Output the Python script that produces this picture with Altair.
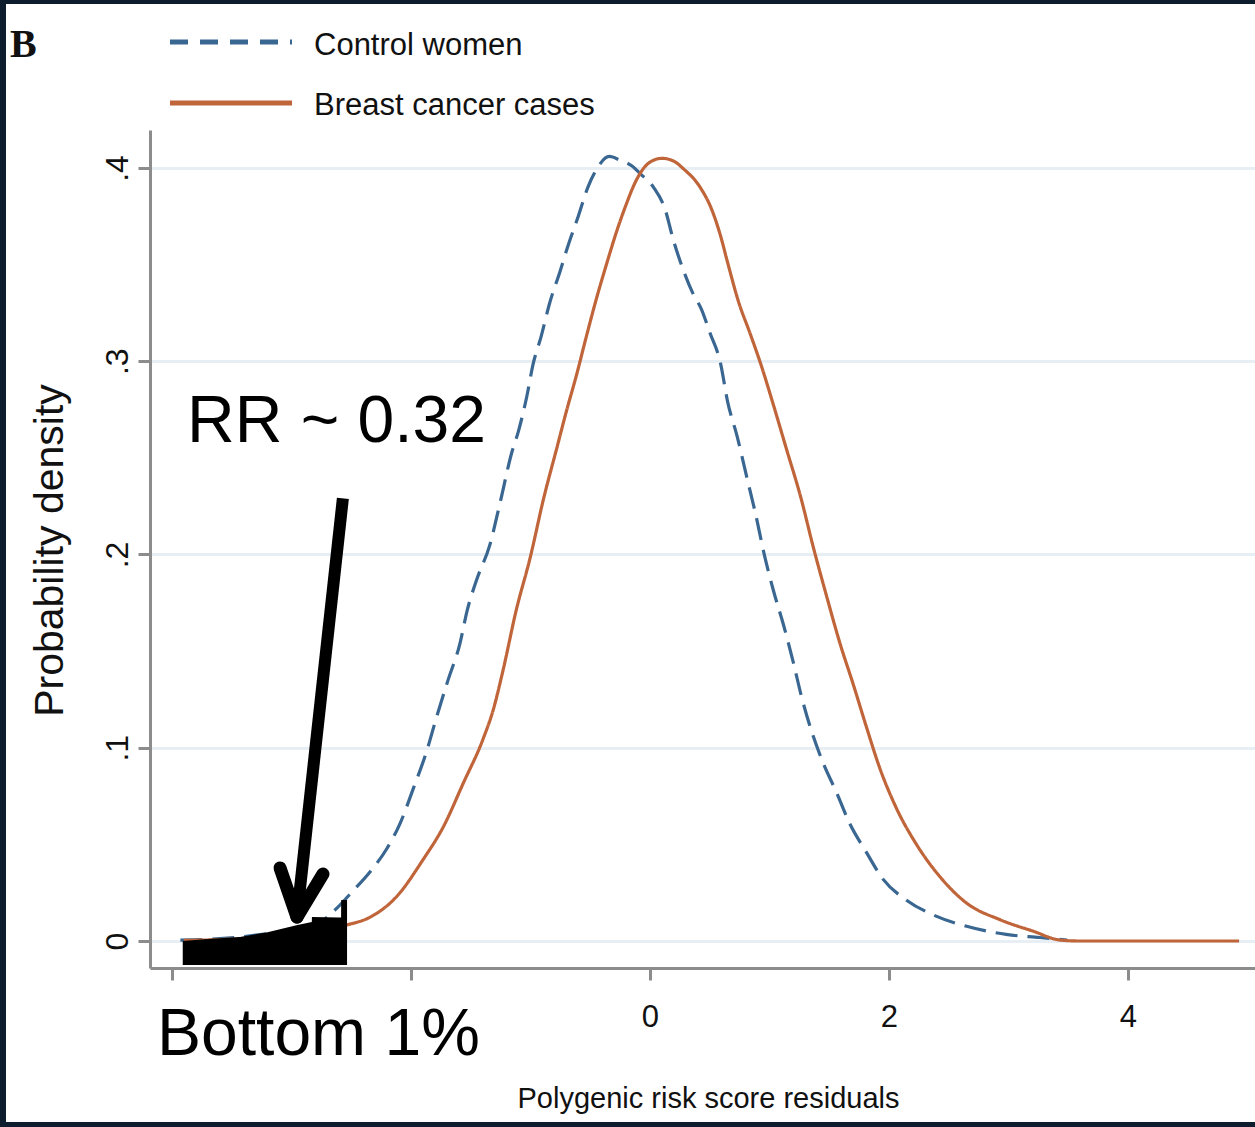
import altair as alt
import pandas as pd

# Kernel density of polygenic risk score residuals, by group
control_x = [-3.93, -3.6, -3.3, -3.0, -2.76, -2.62, -2.5, -2.34, -2.2, -2.09, -1.98, -1.87,
             -1.79, -1.69, -1.59, -1.53, -1.45, -1.34, -1.25, -1.16, -1.10, -1.03, -0.98,
             -0.91, -0.84, -0.75, -0.69, -0.60, -0.52, -0.45, -0.34, -0.25, -0.15, -0.08,
             0.03, 0.13, 0.19, 0.28, 0.36, 0.43, 0.50, 0.59, 0.65, 0.73, 0.81, 0.88, 0.96,
             1.03, 1.12, 1.20, 1.27, 1.35, 1.45, 1.56, 1.67, 1.81, 1.95, 2.15, 2.37, 2.65,
             2.98, 3.26, 3.49]
control_y = [0.0005, 0.0012, 0.003, 0.006, 0.0098, 0.017, 0.025, 0.036, 0.048, 0.061, 0.079,
             0.098, 0.115, 0.135, 0.154, 0.171, 0.187, 0.205, 0.228, 0.252, 0.264, 0.282,
             0.298, 0.313, 0.330, 0.347, 0.359, 0.375, 0.390, 0.399, 0.406, 0.404, 0.401,
             0.397, 0.390, 0.378, 0.364, 0.347, 0.335, 0.327, 0.315, 0.299, 0.279, 0.261,
             0.240, 0.222, 0.199, 0.182, 0.163, 0.144, 0.126, 0.109, 0.092, 0.077, 0.061,
             0.046, 0.032, 0.021, 0.0135, 0.0076, 0.0034, 0.0018, 0.0005]

cases_x = [-3.9, -3.5, -3.1, -2.8, -2.54, -2.34, -2.12, -1.90, -1.73, -1.56, -1.40, -1.31,
           -1.23, -1.12, -1.00, -0.89, -0.78, -0.70, -0.61, -0.54, -0.45, -0.36, -0.28,
           -0.20, -0.12, -0.03, 0.03, 0.10, 0.20, 0.28, 0.42, 0.52, 0.59, 0.65, 0.74, 0.84,
           0.93, 1.03, 1.14, 1.26, 1.37, 1.48, 1.59, 1.70, 1.81, 1.92, 2.06, 2.23, 2.43,
           2.65, 2.93, 3.21, 3.43, 3.6, 4.93]
cases_y = [0.0003, 0.001, 0.003, 0.0055, 0.0083, 0.0124, 0.023, 0.042, 0.059, 0.082, 0.104,
           0.120, 0.140, 0.171, 0.199, 0.229, 0.255, 0.274, 0.294, 0.311, 0.332, 0.351,
           0.367, 0.381, 0.393, 0.4015, 0.404, 0.405, 0.4035, 0.3996, 0.390, 0.378, 0.365,
           0.351, 0.331, 0.314, 0.298, 0.278, 0.255, 0.230, 0.203, 0.178, 0.154, 0.133,
           0.111, 0.090, 0.069, 0.050, 0.033, 0.0196, 0.011, 0.005, 0.0005, 0.0, 0.0]

series_names = ["Control women", "Breast cancer cases"]
series_colors = ["#3a6791", "#c0653a"]

# Shaded "bottom 1%" tail
tail_x = [-3.91, -3.70, -3.43, -3.20, -2.95, -2.83, -2.829, -2.60, -2.585, -2.584, -2.535]
tail_top = [0.0, 0.0010, 0.0021, 0.0045, 0.0083, 0.0098, 0.0124, 0.0122, 0.0122, 0.0212, 0.0212]
tail_base = -0.0124

# Arrow pointing at the tail: shaft and two head strokes
arrow_x = [-2.57, -3.096, -2.736]
arrow_y = [0.229, 0.0378, 0.0347]
arrow_x2 = [-2.945, -2.954, -2.954]
arrow_y2 = [0.018, 0.0124, 0.0124]

x_ticks = [-4, -2, 0, 2, 4]
y_ticks = [0, 0.1, 0.2, 0.3, 0.4]

NAVY = "#0e1d2e"
AXIS_GREY = "#8c8c8c"
SANS = "Liberation Sans, Arial, Helvetica, sans-serif"

curves = pd.concat([
    pd.DataFrame({"x": control_x, "y": control_y, "series": series_names[0]}),
    pd.DataFrame({"x": cases_x, "y": cases_y, "series": series_names[1]}),
])
tail = pd.DataFrame({"x": tail_x, "y": tail_top, "y2": [tail_base] * len(tail_x)})
arrow = pd.DataFrame({"x": arrow_x, "y": arrow_y, "x2": arrow_x2, "y2": arrow_y2})

x_scale = alt.Scale(domain=[-4.184, 5.063], nice=False, zero=False)
y_scale = alt.Scale(domain=[-0.01397, 0.41966], nice=False, zero=False)

x_axis = alt.Axis(
    values=x_ticks, labelExpr="datum.value < 0 ? '' : datum.label", grid=False,
    domainColor=AXIS_GREY, domainWidth=3, tickColor=AXIS_GREY, tickWidth=3, tickSize=12,
    labelFont=SANS, labelFontSize=31, labelColor="#111111", labelPadding=46,
    labelBaseline="alphabetic", labelFlush=False, labelOverlap=False,
    titleFont=SANS, titleFontSize=29, titleFontWeight="normal", titleColor="#111111",
    titleX=558, titleY=139, titleBaseline="alphabetic", titleAlign="center",
)
y_axis = alt.Axis(
    values=y_ticks,
    labelExpr="datum.value == 0 ? '0' : replace(format(datum.value, '.1f'), '0.', '.')",
    grid=True, gridColor="#e7eff4", gridWidth=3,
    domainColor=AXIS_GREY, domainWidth=3, tickColor=AXIS_GREY, tickWidth=3, tickSize=12,
    labelFont=SANS, labelFontSize=32, labelColor="#111111", labelAngle=270,
    labelAlign="center", labelBaseline="alphabetic", labelPadding=11,
    labelFlush=False, labelOverlap=False,
    titleFont=SANS, titleFontSize=41, titleFontWeight="normal", titleColor="#111111",
    titleAngle=270, titleX=-88, titleY=420, titleBaseline="alphabetic", titleAlign="center",
)

X = alt.X("x:Q", scale=x_scale, axis=x_axis, title="Polygenic risk score residuals")
Y = alt.Y("y:Q", scale=y_scale, axis=y_axis, title="Probability density")

one_row = pd.DataFrame({"k": [0]})


def strip(x, x2, y, y2):
    return alt.Chart(one_row).mark_rect(color=NAVY).encode(
        x=alt.value(x), x2=alt.value(x2), y=alt.value(y), y2=alt.value(y2))


def note(text, x, y, **style):
    return alt.Chart(one_row).mark_text(text=text, align="left", baseline="alphabetic",
                                         **style).encode(x=alt.value(x), y=alt.value(y))


frame = [strip(-150, 1105, -130, -126), strip(-150, -144, -130, 997),
         strip(-150, 1105, 992, 997)]

lines = alt.Chart(curves).mark_line(strokeWidth=3.2, interpolate="monotone").encode(
    x=X, y=Y,
    color=alt.Color("series:N", scale=alt.Scale(domain=series_names, range=series_colors),
                    legend=None),
    strokeDash=alt.StrokeDash("series:N",
                              scale=alt.Scale(domain=series_names, range=[[22, 10], [1, 0]]),
                              legend=None),
)

tail_area = alt.Chart(tail).mark_area(color="black", interpolate="linear").encode(
    x=X, y=Y, y2="y2:Q")

shaft = alt.Chart(arrow.iloc[:1]).mark_rule(color="black", strokeWidth=12, strokeCap="butt").encode(
    x=X, y=Y, x2="x2:Q", y2="y2:Q")
head = alt.Chart(arrow.iloc[1:]).mark_rule(color="black", strokeWidth=13, strokeCap="round").encode(
    x=X, y=Y, x2="x2:Q", y2="y2:Q")

texts = [
    note("B", -140, -73, font="Liberation Serif, Times New Roman, serif", fontSize=40,
         fontWeight="bold", color="#111111"),
    note("RR ~ 0.32", 37, 312, font=SANS, fontSize=66, color="#000000"),
    note("Bottom 1%", 7, 925, font=SANS, fontSize=66, color="#000000"),
    note(series_names[0], 164, -75, font=SANS, fontSize=31, color="#111111"),
    note(series_names[1], 164, -15, font=SANS, fontSize=31, color="#111111"),
]

legend_keys = [
    alt.Chart(one_row).mark_rule(color=series_colors[0], strokeWidth=5, strokeDash=[18, 12]).encode(
        x=alt.value(20), x2=alt.value(142), y=alt.value(-88)),
    alt.Chart(one_row).mark_rule(color=series_colors[1], strokeWidth=5).encode(
        x=alt.value(20), x2=alt.value(142), y=alt.value(-27)),
]

chart = alt.layer(
    *frame, lines, tail_area, shaft, head, *legend_keys, *texts
).properties(
    width=1105, height=838,
    autosize=alt.AutoSizeParams(type="none"),
    padding={"left": 150, "top": 130, "right": 0, "bottom": 159},
    background="white",
).configure_view(stroke=None)

chart.save("out.html", embed_options={"renderer": "svg", "actions": False})
